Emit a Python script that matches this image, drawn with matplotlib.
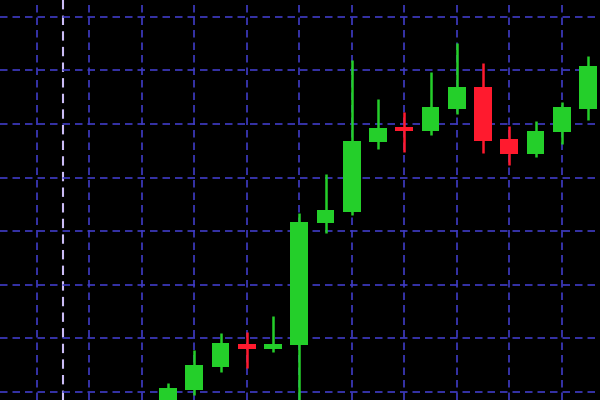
import matplotlib
matplotlib.use("Agg")
import matplotlib.pyplot as plt
import numpy as np

# candle data (price units; grid every 10)
opens  = [96.6, 100.4, 104.7, 109.0, 108.0, 108.8, 131.5, 133.6, 146.6, 149.4, 148.7, 152.8, 156.9, 147.2, 144.4, 148.5, 152.8]
closes = [100.75, 105.0, 109.1, 108.0, 109.0, 131.7, 134.0, 146.8, 149.3, 148.7, 153.2, 156.9, 146.8, 144.4, 148.7, 153.2, 160.8]
highs  = [101.7, 107.8, 111.0, 111.2, 114.2, 133.4, 140.7, 161.9, 154.7, 152.2, 159.7, 165.1, 161.4, 149.6, 150.6, 154.1, 162.7]
lows   = [95.0, 99.4, 103.7, 104.5, 107.5, 97.0, 129.7, 133.0, 145.3, 144.8, 147.9, 151.9, 144.6, 142.4, 143.8, 146.3, 150.7]
xgrid = [-5, -3, -1, 1, 3, 5, 7, 9, 11, 13, 15]
ygrid = [100, 110, 120, 130, 140, 150, 160, 170]

fig = plt.figure(figsize=(6, 4), dpi=100)
fig.patch.set_facecolor("black")
ax = fig.add_axes([0, 0, 1, 1])
ax.set_facecolor("black")

grid_col = "#3f3cc4"
dash = (0, (4.5, 3))
for gx in xgrid:
    ax.axvline(gx, color=grid_col, lw=1.2, ls=dash, zorder=1)
ax.axvline(-4, color="#cbbcf5", lw=1.5, ls=dash, zorder=1)
for gy in ygrid:
    ax.axhline(gy, color=grid_col, lw=1.2, ls=dash, zorder=1)

x = np.arange(len(opens))
green = "#24cf2a"
red = "#ff1a2e"
for i in x:
    o, c, h, l = opens[i], closes[i], highs[i], lows[i]
    col = green if c >= o else red
    ax.vlines(i, l, h, color=col, lw=1.8, zorder=2)
    bottom = min(o, c)
    height = max(abs(c - o), 0.6)
    ax.bar(i, height, bottom=bottom, width=0.68, color=col, edgecolor=col, lw=0, zorder=3)

ax.set_xlim(-6.4, 16.457)
ax.set_ylim(98.51, 173.13)
ax.axis("off")
fig.savefig("out.png", dpi=100, facecolor="black")
